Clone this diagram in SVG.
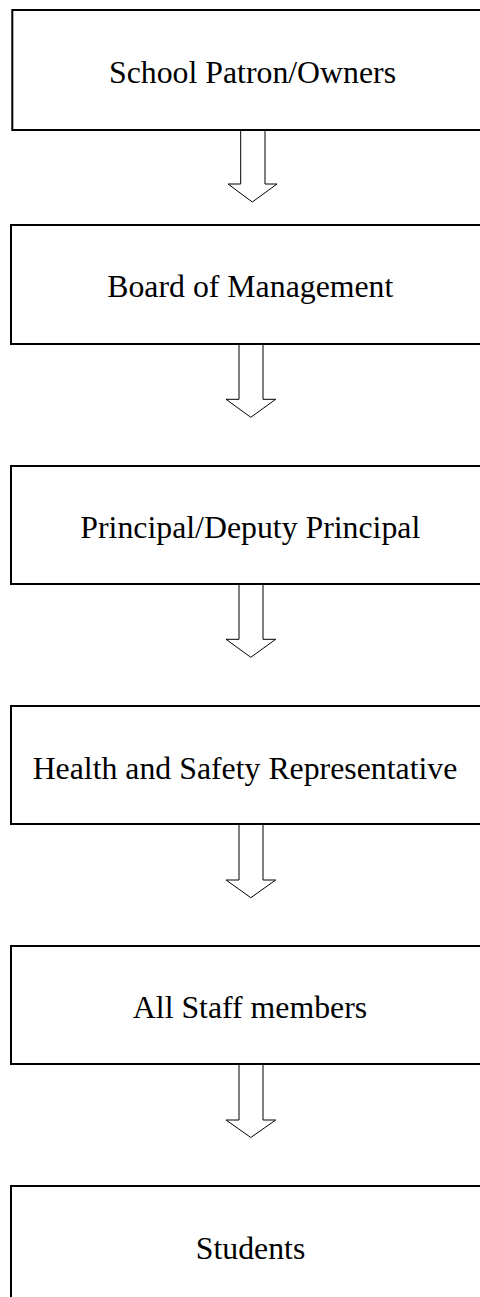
<svg xmlns="http://www.w3.org/2000/svg" width="480" height="1297" viewBox="0 0 480 1297">
<style>
.box{fill:#fff;stroke:#000;stroke-width:2}
.lbl{font-family:"Liberation Serif","Times New Roman",serif;font-size:31.8px;fill:#000;text-anchor:middle}
.arr{fill:#fff;stroke:#000;stroke-width:1}
</style>
<rect x="0" y="0" width="480" height="1297" fill="#fff"/>
<g id="connectors">
<path class="arr" d="M240.7,130 V184 H228 L252.3,202 L277,184 H265 V130"/>
<path class="arr" d="M239,344 V399.3 H226 L250.8,417.3 L275.7,399.3 H263 V344"/>
<path class="arr" d="M239,584 V639.3 H226 L250.8,657.3 L275.7,639.3 H263 V584"/>
<path class="arr" d="M239,824 V880 H226 L250.8,897.7 L275.7,880 H263 V824"/>
<path class="arr" d="M239,1064 V1120 H226 L250.8,1137.5 L275.7,1120 H263 V1064"/>
</g>
<g id="n1"><rect class="box" x="12.3" y="10" width="480" height="120"/><text class="lbl" x="252.5" y="83">School Patron/Owners</text></g>
<g id="n2"><rect class="box" x="11" y="225" width="480" height="119"/><text class="lbl" x="250.3" y="297">Board of Management</text></g>
<g id="n3"><rect class="box" x="11" y="466" width="480" height="118"/><text class="lbl" x="250.3" y="537.5">Principal/Deputy Principal</text></g>
<g id="n4"><rect class="box" x="11" y="706" width="480" height="118"/><text class="lbl" x="245" y="779">Health and Safety Representative</text></g>
<g id="n5"><rect class="box" x="11" y="946" width="480" height="118"/><text class="lbl" x="250" y="1018">All Staff members</text></g>
<g id="n6"><rect class="box" x="11" y="1186" width="480" height="130"/><text class="lbl" x="250.5" y="1259">Students</text></g>
</svg>
